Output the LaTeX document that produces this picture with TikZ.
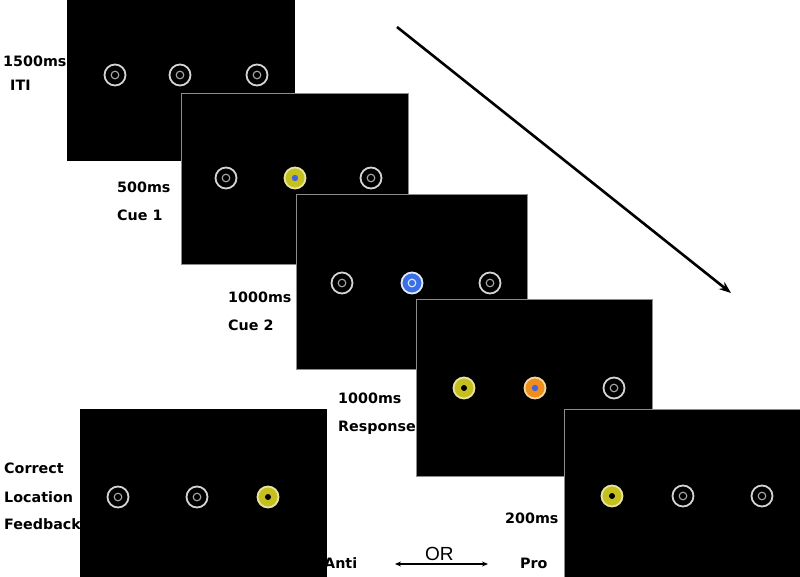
\documentclass[tikz,border=0pt]{standalone}
\usepackage{fontspec}
\setmainfont{DejaVu Sans}
\newfontfamily\orfont{Liberation Sans}
\usetikzlibrary{arrows.meta}
\definecolor{ringgray}{HTML}{D4D4D4}
\definecolor{innergray}{HTML}{A8A8A8}
\definecolor{panelgray}{HTML}{8C8C8C}
\definecolor{yel}{HTML}{C6C01E}
\definecolor{paleyel}{HTML}{E6E4A0}
\definecolor{cueblue}{HTML}{3B6FE6}
\definecolor{dotblue}{HTML}{4262E2}
\definecolor{orng}{HTML}{EE8E1C}
\definecolor{paleorng}{HTML}{F6D6A0}
\begin{document}
\begin{tikzpicture}[x=1pt,y=-1pt,
  screen/.style={fill=black, draw=#1, line width=0.9pt, anchor=north west, inner sep=0pt},
  screen/.default=panelgray,
  ring/.style={circle, draw=ringgray, line width=1.8pt, minimum size=21pt, inner sep=0pt},
  plainstim/.style={ring, fill=black, path picture={\draw[innergray,line width=1.1pt] (path picture bounding box.center) circle[radius=3.8pt];}},
  yelblue/.style={ring, draw=paleyel, fill=yel, path picture={\fill[dotblue] (path picture bounding box.center) circle[radius=3.2pt];}},
  yelblack/.style={ring, draw=paleyel, fill=yel, path picture={\fill[black] (path picture bounding box.center) circle[radius=3pt];}},
  bluestim/.style={ring, draw=white!85!cueblue, fill=cueblue, path picture={\draw[white!85!cueblue,line width=1.1pt] (path picture bounding box.center) circle[radius=3.8pt];}},
  orangestim/.style={ring, draw=paleorng, fill=orng, path picture={\fill[dotblue] (path picture bounding box.center) circle[radius=3.2pt];}},
  lbl/.style={anchor=base west, inner sep=0pt, font=\fontsize{14.3}{16}\selectfont\bfseries},
  orlbl/.style={anchor=base west, inner sep=0pt, font=\fontsize{19}{21}\selectfont\orfont},
  timearrow/.style={line width=2.6pt, -{Stealth[length=12pt,width=9pt]}},
  orarrow/.style={line width=1.3pt, {Stealth[length=6pt,width=5pt]}-{Stealth[length=6pt,width=5pt]}}
]
\useasboundingbox (0,0) rectangle (800,576);
\fill[white] (0,0) rectangle (800,576);

% screens
\node[screen=black, minimum width=227pt, minimum height=160pt] (s1) at (67,0) {};
\node[plainstim] (c11) at (115,75) {};
\node[plainstim] (c12) at (180,75) {};
\node[plainstim] (c13) at (257,75) {};

\node[screen, minimum width=227pt, minimum height=171pt] (s2) at (181,93) {};
\node[plainstim] (c21) at (226,178) {};
\node[yelblue] (c22) at (295,178) {};
\node[plainstim] (c23) at (371,178) {};

\node[screen, minimum width=231pt, minimum height=175pt] (s3) at (296,194) {};
\node[plainstim] (c31) at (342,283) {};
\node[bluestim] (c32) at (412,283) {};
\node[plainstim] (c33) at (490,283) {};

\node[screen, minimum width=236pt, minimum height=177pt] (s4) at (416,299) {};
\node[yelblack] (c41) at (464,388) {};
\node[orangestim] (c42) at (535,388) {};
\node[plainstim] (c43) at (614,388) {};

\node[screen, minimum width=240pt, minimum height=170pt] (s5) at (564,409) {};
\node[yelblack] (c51) at (612,496) {};
\node[plainstim] (c52) at (683,496) {};
\node[plainstim] (c53) at (762,496) {};

\node[screen=black, minimum width=246pt, minimum height=170pt] (s6) at (80,409) {};
\node[plainstim] (c61) at (118,497) {};
\node[plainstim] (c62) at (197,497) {};
\node[yelblack] (c63) at (268,497) {};

% labels
\node[lbl] (t1a) at (3,66) {1500ms};
\node[lbl] (t1b) at (10,90) {ITI};
\node[lbl] (t2a) at (117,192) {500ms};
\node[lbl] (t2b) at (117,220) {Cue 1};
\node[lbl] (t3a) at (228,302) {1000ms};
\node[lbl] (t3b) at (228,330) {Cue 2};
\node[lbl] (t4a) at (338,403) {1000ms};
\node[lbl] (t4b) at (338,431) {Response};
\node[lbl] (t6a) at (4,473) {Correct};
\node[lbl] (t6b) at (4,502) {Location};
\node[lbl] (t6c) at (4,529) {Feedback};
\node[lbl] (t5a) at (505,523) {200ms};
\node[lbl] (anti) at (324,568) {Anti};
\node[orlbl] (or) at (425,560) {OR};
\node[lbl] (pro) at (520,568) {Pro};

% arrows
\coordinate (ta) at (397,27);
\coordinate (tb) at (731,293);
\draw[timearrow] (ta) -- (tb);
\coordinate (oa) at (395,564);
\coordinate (ob) at (488,564);
\draw[orarrow] (oa) -- (ob);
\end{tikzpicture}
\end{document}
